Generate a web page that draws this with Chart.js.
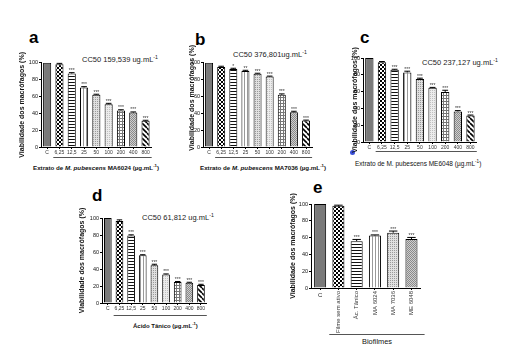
<!DOCTYPE html>
<html><head><meta charset="utf-8">
<script src="https://cdn.jsdelivr.net/npm/chart.js@4/dist/chart.umd.min.js"></script>
<style>
html,body{margin:0;padding:0;background:#fff;}
body{width:517px;height:358px;position:relative;overflow:hidden;font-family:"Liberation Sans",Arial,sans-serif;}
canvas{position:absolute;}
.t{position:absolute;white-space:nowrap;line-height:1;color:#111;}
.t sup{font-size:0.7em;vertical-align:baseline;position:relative;top:-0.6em;}
.L{font-weight:bold;font-size:17px;color:#000;}
.cc{font-size:7.5px;color:#222;}
.xb{font-weight:bold;font-size:6.2px;}
</style></head><body>
<div class="t L" style="left:29px;top:29.1px">a</div>
<div class="t L" style="left:195px;top:30.6px">b</div>
<div class="t L" style="left:360px;top:29.1px">c</div>
<div class="t L" style="left:92px;top:186.6px">d</div>
<div class="t L" style="left:313px;top:178.6px">e</div>

<div class="t cc" style="left:82px;top:55.65px">CC50 159,539 ug.mL<sup>-1</sup></div>
<div class="t cc" style="left:233px;top:50.65px">CC50 376,801ug.mL<sup>-1</sup></div>
<div class="t cc" style="left:422px;top:59.15px">CC50 237,127 ug.mL<sup>-1</sup></div>
<div class="t cc" style="left:142px;top:214.15px">CC50 61,812 ug.mL<sup>-1</sup></div>

<div class="t xb" style="left:33px;top:164.75px">Extrato de <i>M. pubescens</i> MA6024 (µg.mL<sup>-1</sup>)</div>
<div class="t xb" style="left:200px;top:164.75px">Extrato de <i>M. pubescens</i> MA7036 (µg.mL<sup>-1</sup>)</div>
<div class="t" style="left:355px;top:160.5px;font-size:6.5px">Extrato de M. pubescens ME6048 (µg.mL<sup>-1</sup>)</div>
<div class="t xb" style="left:133px;top:322.9px;font-size:6px">Ácido Tânico (µg.mL<sup>-1</sup>)</div>
<div class="t" style="left:362px;top:337.7px;font-size:7.4px">Biofilmes</div>
<div style="position:absolute;left:349.5px;top:149.5px;width:5px;height:5px;border-radius:50%;background:#3a4fd8"></div>

<script>
// ---------- data ----------
const concLabels = ['C','6,25','12,5','25','50','100','200','400','800'];
const biofilmLabels = ['C','Filme sem ativo','Ác. Tânico','MA 6024','MA 7036','ME 6048'];

const valuesA = [100, 98.2, 87.2, 70.6, 62.0, 50.8, 43.4, 40.8, 31.2];
const errA    = [0, 1.0, 1.0, 1.0, 0.6, 1.0, 0.8, 0.8, 0.5];
const starsA  = ['', '', '***', '***', '***', '***', '***', '***', '***'];

const valuesB = [100, 94.8, 92.4, 90.2, 87.0, 83.6, 62.0, 41.2, 31.4];
const errB    = [0, 1.0, 1.0, 0.8, 0.5, 0.5, 1.0, 1.2, 0.5];
const starsB  = ['', '', '*', '**', '***', '***', '***', '***', '***'];

const valuesC = [100, 94.8, 86.0, 82.8, 75.0, 64.6, 59.6, 36.4, 31.6];
const errC    = [0, 1.0, 0.6, 1.5, 1.0, 0.4, 2.0, 1.0, 0.5];
const starsC  = ['', '', '***', '***', '***', '***', '***', '***', '***'];

const valuesD = [100, 96.6, 79.4, 56.2, 44.4, 33.6, 24.8, 23.8, 21.2];
const errD    = [0, 1.2, 0.8, 0.6, 1.2, 0.6, 0.5, 0.6, 0.8];
const starsD  = ['', '', '***', '***', '***', '***', '***', '***', '***'];

const valuesE = [100, 97.8, 55.8, 62.4, 65.8, 58.2];
const errE    = [0, 0.8, 2.0, 0.8, 2.0, 2.0];
const starsE  = ['', '', '***', '***', '***', '***'];

const yTitle = 'Viabilidade dos macrófagos (%)';

// ---------- patterns ----------
function pat(size, draw){
  const c = document.createElement('canvas'); c.width = size; c.height = size;
  const g = c.getContext('2d'); draw(g, size);
  return document.createElement('canvas').getContext('2d').createPattern(c, 'repeat');
}
const P = {
  solid: '#7a7a7a',
  check: pat(4, (g)=>{ g.fillStyle='#fff'; g.fillRect(0,0,4,4); g.fillStyle='#000'; g.fillRect(0,0,2,2); g.fillRect(2,2,2,2); }),
  hlines: pat(3, (g)=>{ g.fillStyle='#fff'; g.fillRect(0,0,3,3); g.fillStyle='#111'; g.fillRect(0,0,3,1); }),
  vlines: pat(3, (g)=>{ g.fillStyle='#fff'; g.fillRect(0,0,3,3); g.fillStyle='#999'; g.fillRect(0,0,1,3); }),
  dots1: pat(2, (g)=>{ g.fillStyle='#e0e0e0'; g.fillRect(0,0,2,2); g.fillStyle='#9a9a9a'; g.fillRect(0,0,1,1); }),
  dots2: pat(2, (g)=>{ g.fillStyle='#ececec'; g.fillRect(0,0,2,2); g.fillStyle='#c0c0c0'; g.fillRect(0,0,1,1); }),
  grid: pat(3, (g)=>{ g.fillStyle='#fff'; g.fillRect(0,0,3,3); g.fillStyle='#777'; g.fillRect(0,0,3,1); g.fillRect(0,0,1,3); }),
  dots3: pat(2, (g)=>{ g.fillStyle='#cfcfcf'; g.fillRect(0,0,2,2); g.fillStyle='#8a8a8a'; g.fillRect(0,0,1,1); g.fillRect(1,1,1,1); }),
  diag: pat(5, (g)=>{ g.fillStyle='#fff'; g.fillRect(0,0,5,5); g.strokeStyle='#000'; g.lineWidth=1.6;
    for(let k=-5;k<=10;k+=5){ g.beginPath(); g.moveTo(k,0); g.lineTo(k+5,5); g.stroke(); } })
};
const concFills = [P.solid, P.check, P.hlines, P.vlines, P.dots1, P.dots2, P.grid, P.dots3, P.diag];
const bioFills  = [P.solid, P.check, P.hlines, P.vlines, P.dots1, P.dots3];

// ---------- panels ----------
function makePanel(p){
  const cl = Math.round(p.titleX - 5);
  const ct = Math.round(p.T - 20);
  const padTop = p.T - ct;
  const yW = p.L - cl;
  const w = Math.ceil(p.R - cl + 8);
  const h = Math.ceil(p.B - ct + p.xH + 2);
  const cv = document.createElement('canvas');
  cv.width = w; cv.height = h;
  cv.style.left = cl + 'px'; cv.style.top = ct + 'px';
  cv.style.width = w + 'px'; cv.style.height = h + 'px';
  document.body.appendChild(cv);

  const extras = {
    id: 'extras',
    afterDatasetsDraw(chart){
      const ctx = chart.ctx, meta = chart.getDatasetMeta(0), y = chart.scales.y, x = chart.scales.x;
      const ca = chart.chartArea;
      ctx.save();
      ctx.strokeStyle = '#000'; ctx.lineWidth = 1;
      meta.data.forEach((bar, i) => {
        const v = p.values[i], e = p.err[i];
        const yt = y.getPixelForValue(v + e), yb = y.getPixelForValue(v);
        if (e > 0) {
          const cw = bar.width * 0.35;
          ctx.beginPath();
          ctx.moveTo(bar.x, yb); ctx.lineTo(bar.x, yt);
          ctx.moveTo(bar.x - cw, yt); ctx.lineTo(bar.x + cw, yt);
          ctx.stroke();
        }
        if (p.stars[i]) {
          ctx.fillStyle = '#333'; ctx.font = '5px "Liberation Sans", Arial';
          ctx.textAlign = 'center'; ctx.textBaseline = 'alphabetic';
          ctx.fillText(p.stars[i], bar.x, yt - 0.5);
        }
      });
      // bracket under the tested groups
      const cw = (x.right - x.left) / p.labels.length;
      const by = Math.round(ca.bottom + p.bracket) + 0.5;
      ctx.strokeStyle = '#555'; ctx.lineWidth = 1;
      ctx.beginPath(); ctx.moveTo(x.left + cw, by); ctx.lineTo(x.right + p.bracketExtra, by); ctx.stroke();
      if (p.cLabel) {
        ctx.fillStyle = '#222'; ctx.font = '6px "Liberation Sans", Arial';
        ctx.textAlign = 'center'; ctx.textBaseline = 'top';
        ctx.fillText('C', meta.data[0].x, ca.bottom + 4);
      }
      // y-axis title (drawn without width squeezing)
      ctx.translate(p.titleX - cl, (ca.top + ca.bottom) / 2 + (p.titleShift || 0));
      ctx.rotate(-Math.PI / 2);
      ctx.fillStyle = '#111'; ctx.font = 'bold 7px "Liberation Sans", Arial';
      ctx.textAlign = 'center'; ctx.textBaseline = 'middle';
      ctx.fillText(yTitle, 0, 0);
      ctx.restore();
    }
  };

  new Chart(cv, {
    type: 'bar',
    data: { labels: p.labels, datasets: [{
      data: p.values, backgroundColor: p.fills, borderColor: '#000', borderWidth: 1,
      barPercentage: 0.66, categoryPercentage: 1
    }]},
    options: {
      responsive: false, animation: false, devicePixelRatio: 1,
      layout: { padding: { top: padTop, left: 0, right: w - (p.R - cl), bottom: h - (p.B - ct) - p.xH } },
      plugins: { legend: { display: false }, tooltip: { enabled: false } },
      scales: {
        x: {
          afterFit: (s) => { s.height = p.xH; },
          grid: { display: true, drawOnChartArea: false, drawTicks: true, tickLength: 2, offset: false, color: '#000' },
          border: { display: true, color: '#000', width: 1 },
          ticks: {
            autoSkip: false, color: '#333', padding: p.rot ? 1 : 0.5,
            font: { size: p.rot ? 6 : 5, family: '"Liberation Sans", Arial' },
            minRotation: p.rot || 0, maxRotation: p.rot || 0,
            callback: function(val, idx){ const l = this.getLabelForValue(val); return (p.cLabel && idx === 0) ? '' : l; }
          }
        },
        y: {
          min: 0, max: 100,
          afterFit: (s) => { s.width = yW; },
          grid: { display: true, drawOnChartArea: false, drawTicks: true, tickLength: 2, color: '#000' },
          border: { display: true, color: '#000', width: 1 },
          ticks: { stepSize: 20, color: '#111', padding: 1, font: { size: 5.5, family: '"Liberation Sans", Arial' } }
        }
      }
    },
    plugins: [extras]
  });
}

makePanel({ L: 41, R: 151.7, T: 62.7, B: 147, titleX: 22, xH: 12, bracket: 10, bracketExtra: 0,
  labels: concLabels, values: valuesA, err: errA, stars: starsA, fills: concFills });
makePanel({ L: 203, R: 312.1, T: 62.7, B: 147, titleX: 192, titleShift: -7, xH: 12, bracket: 9.7, bracketExtra: 0,
  labels: concLabels, values: valuesB, err: errB, stars: starsB, fills: concFills });
makePanel({ L: 363, R: 476.8, T: 58, B: 142, titleX: 355, xH: 12, bracket: 9, bracketExtra: 0,
  labels: concLabels, values: valuesC, err: errC, stars: starsC, fills: concFills });
makePanel({ L: 102, R: 206.8, T: 218, B: 303, titleX: 82, xH: 16, bracket: 12, bracketExtra: 0,
  labels: concLabels, values: valuesD, err: errD, stars: starsD, fills: concFills });
makePanel({ L: 311, R: 420.6, T: 204, B: 288, titleX: 293, xH: 50, bracket: 46, bracketExtra: 4, rot: 90, cLabel: true,
  labels: biofilmLabels, values: valuesE, err: errE, stars: starsE, fills: bioFills });
</script>
</body></html>
